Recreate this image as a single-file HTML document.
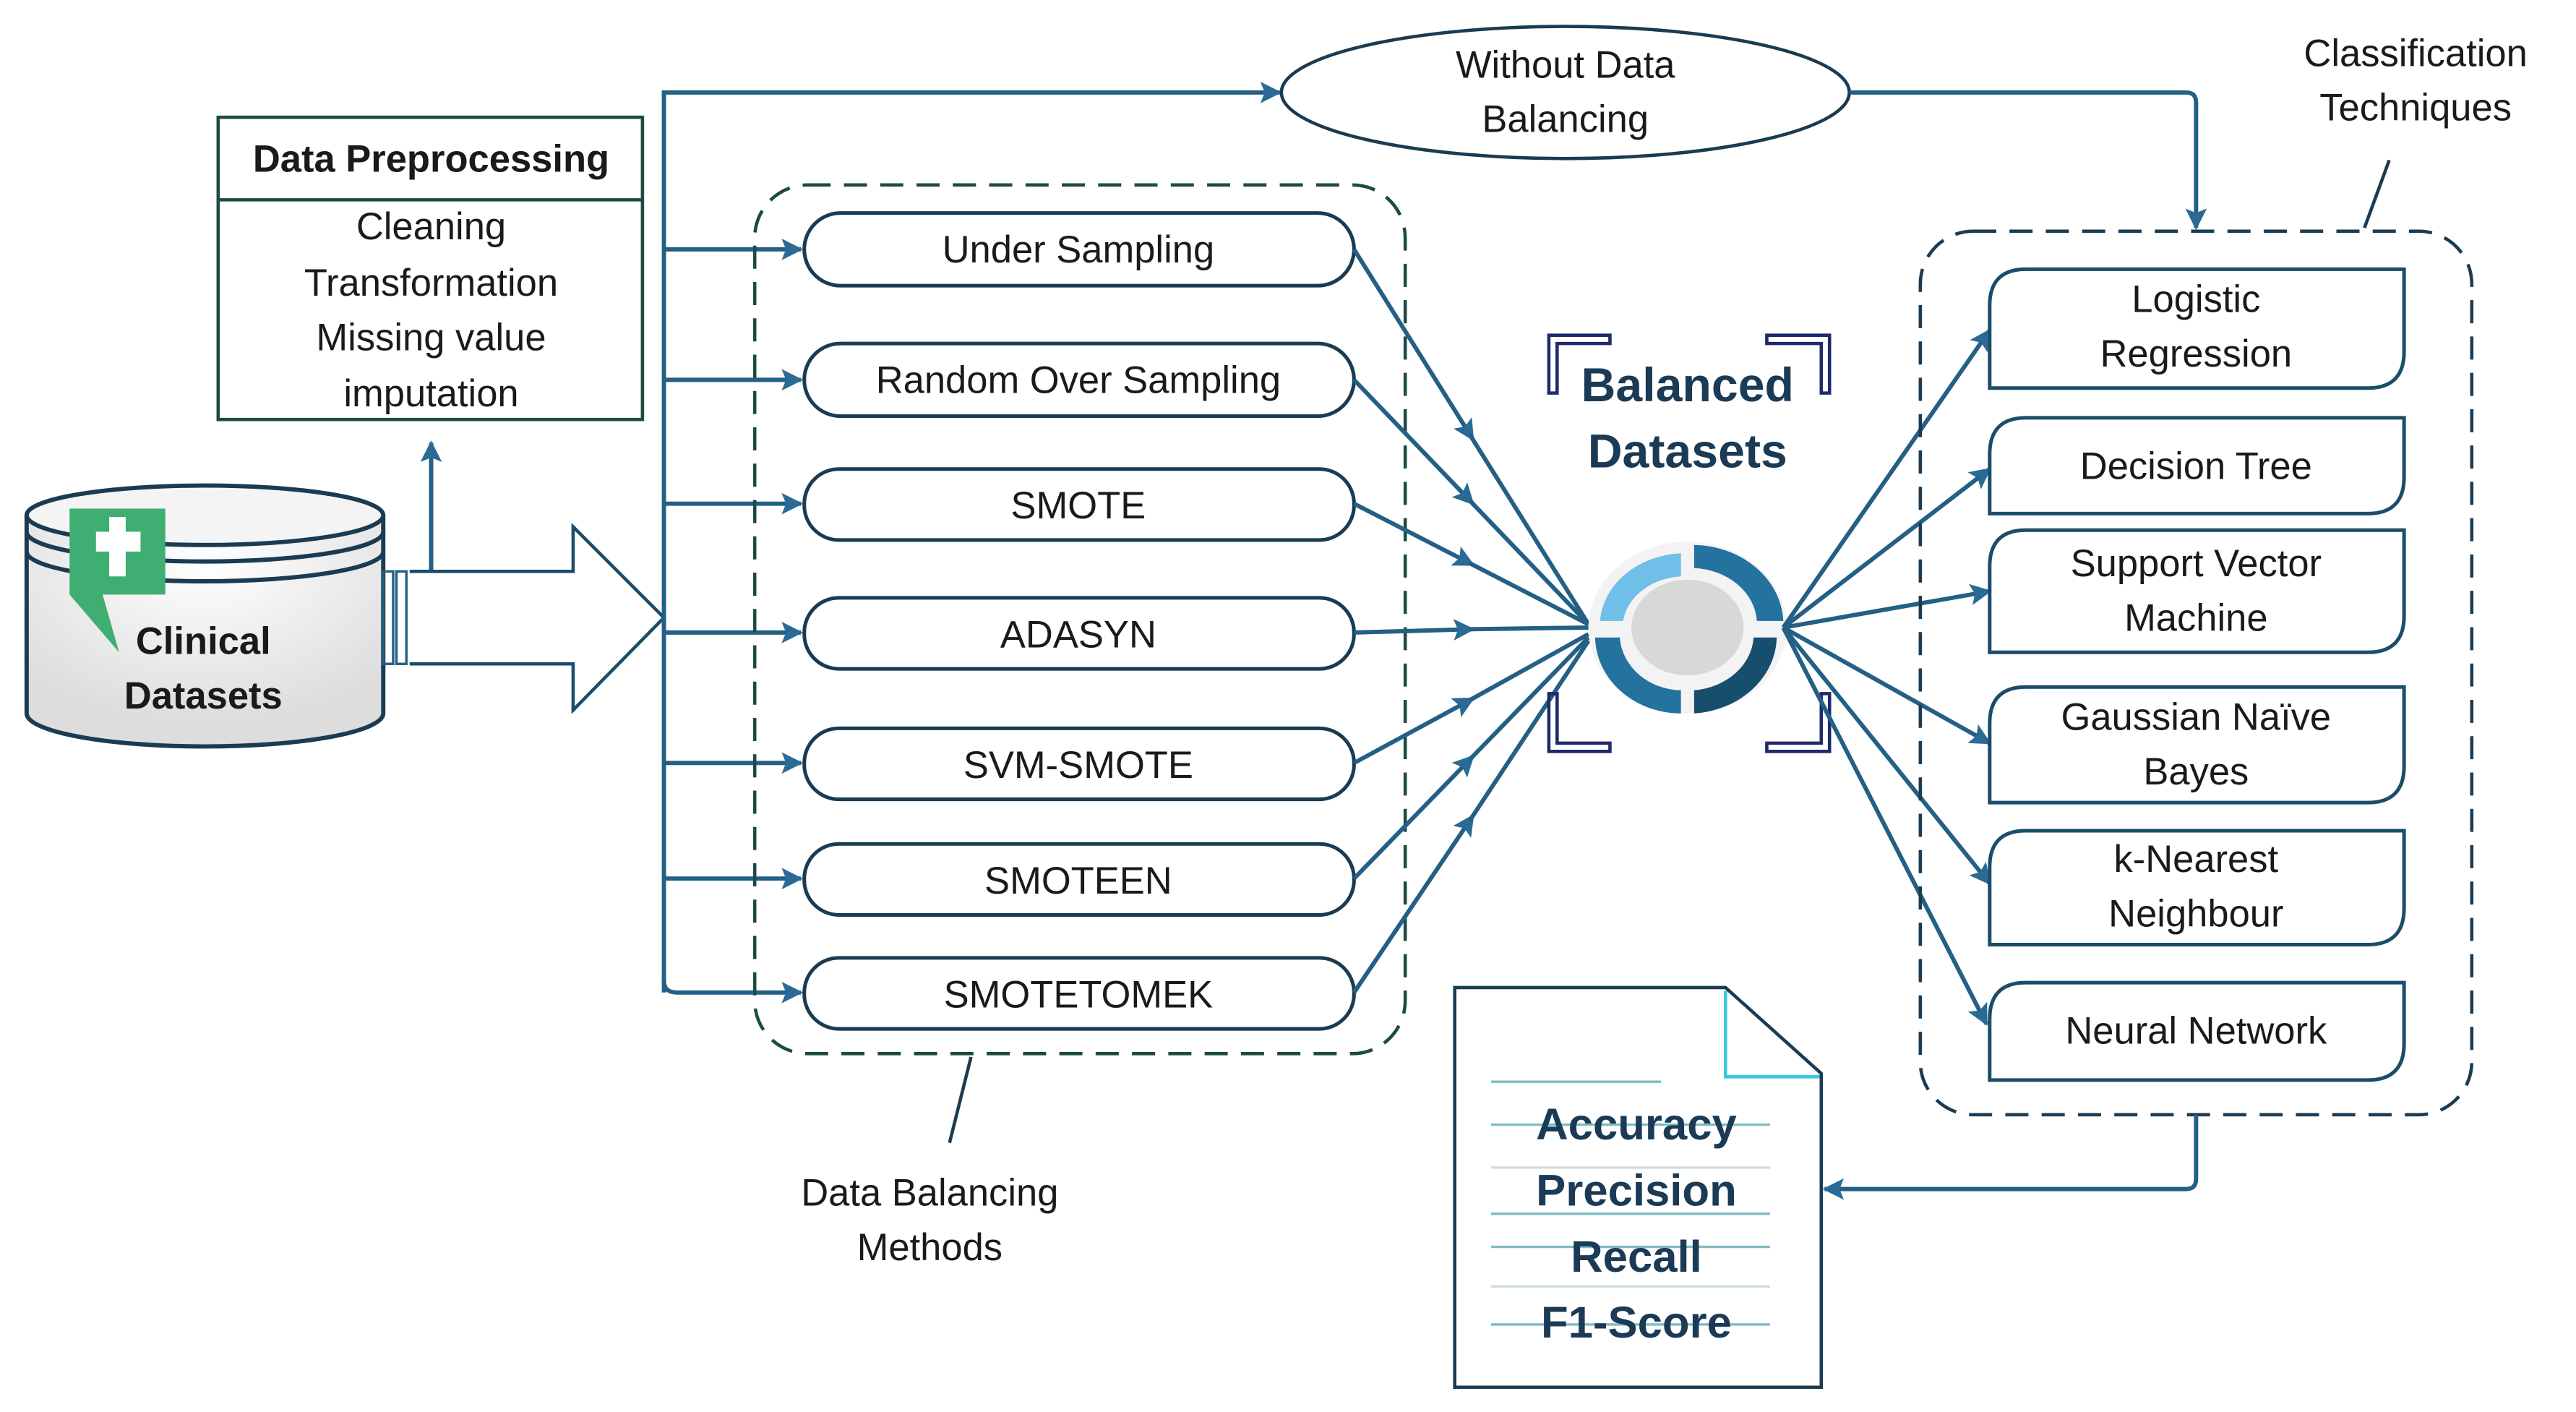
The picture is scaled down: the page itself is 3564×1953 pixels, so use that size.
<!DOCTYPE html>
<html><head><meta charset="utf-8"><style>
html,body{margin:0;padding:0;background:#fff;}
svg{display:block;}
text{font-family:"Liberation Sans","DejaVu Sans",sans-serif;}
</style></head><body>
<svg width="3564" height="1953" viewBox="0 0 1560 855" xmlns="http://www.w3.org/2000/svg">
<defs>
<marker id="a" viewBox="0 0 10 10" refX="9" refY="5" markerWidth="17" markerHeight="13" markerUnits="userSpaceOnUse" orient="auto">
<path d="M0,0 L10,5 L0,10 L2,5 z" fill="#2a6b95"/>
</marker>
<radialGradient id="cg" cx="50%" cy="20%" r="70%"><stop offset="0" stop-color="#fff"/><stop offset="1" stop-color="#ddd"/></radialGradient>
</defs>
<g fill="none" stroke="#245f85" stroke-width="2.6">
<rect x="132" y="71" width="257" height="183" stroke="#1d4a44" stroke-width="2"/>
<line x1="132" y1="121" x2="389" y2="121" stroke="#1d4a44" stroke-width="2"/>
<line x1="261" y1="345" x2="261" y2="268" marker-end="url(#a)"/>
<path d="M16,312 L16,432 A108,20 0 0 0 232,432 L232,312" fill="url(#cg)" stroke="#1b3b52"/>
<ellipse cx="124" cy="312" rx="108" ry="18" fill="#f4f4f4" stroke="#1b3b52"/>
<path d="M16,322 A108,18 0 0 0 232,322 M16,334 A108,18 0 0 0 232,334" stroke="#1b3b52"/>
<path d="M42,308 H100 V360 H62 L72,395 L42,360 Z" fill="#3fae72" stroke="none"/>
<path d="M58,322 H66 V313 H76 V322 H85 V334 H76 V349 H66 V334 H58 Z" fill="#fff" stroke="none"/>
<rect x="232" y="346" width="6" height="56" stroke-width="1.5"/>
<rect x="240" y="346" width="6" height="56" stroke-width="1.5"/>
<path d="M248,346 H347 V319 L402,374 L347,430 V402 H248" fill="#fff" stroke="#1b4d6b" stroke-width="2"/>
<path d="M402,601 V56 H775" marker-end="url(#a)"/>
<path d="M402,594 Q402,601 410,601 H485" marker-end="url(#a)"/>
<line x1="402" y1="151" x2="485" y2="151" marker-end="url(#a)"/>
<line x1="402" y1="230" x2="485" y2="230" marker-end="url(#a)"/>
<line x1="402" y1="305" x2="485" y2="305" marker-end="url(#a)"/>
<line x1="402" y1="383" x2="485" y2="383" marker-end="url(#a)"/>
<line x1="402" y1="462" x2="485" y2="462" marker-end="url(#a)"/>
<line x1="402" y1="532" x2="485" y2="532" marker-end="url(#a)"/>
<rect x="457" y="112" width="394" height="526" rx="32" stroke="#1d4a44" stroke-width="2" stroke-dasharray="14,8"/>
<line x1="588" y1="640" x2="575" y2="692" stroke="#1b3b52" stroke-width="2"/>
<g stroke="#1b3b52" stroke-width="2.2" fill="#fff">
<rect x="487" y="129" width="333" height="44" rx="22"/>
<rect x="487" y="208" width="333" height="44" rx="22"/>
<rect x="487" y="284" width="333" height="43" rx="21"/>
<rect x="487" y="362" width="333" height="43" rx="21"/>
<rect x="487" y="441" width="333" height="43" rx="21"/>
<rect x="487" y="511" width="333" height="43" rx="21"/>
<rect x="487" y="580" width="333" height="43" rx="21"/>
</g>
<g>
<line x1="820" y1="151" x2="892" y2="266" marker-end="url(#a)"/><line x1="890" y1="263" x2="962" y2="378"/>
<line x1="820" y1="230" x2="892" y2="305" marker-end="url(#a)"/><line x1="890" y1="303" x2="962" y2="378"/>
<line x1="820" y1="305" x2="892" y2="342" marker-end="url(#a)"/><line x1="890" y1="341" x2="962" y2="378"/>
<line x1="820" y1="383" x2="892" y2="381" marker-end="url(#a)"/><line x1="890" y1="381" x2="962" y2="380"/>
<line x1="820" y1="462" x2="892" y2="423" marker-end="url(#a)"/><line x1="890" y1="424" x2="962" y2="384"/>
<line x1="820" y1="532" x2="892" y2="458" marker-end="url(#a)"/><line x1="890" y1="460" x2="962" y2="386"/>
<line x1="820" y1="601" x2="892" y2="494" marker-end="url(#a)"/><line x1="890" y1="497" x2="962" y2="388"/>
</g>
<ellipse cx="948" cy="56" rx="172" ry="40" stroke="#1b3b52" stroke-width="2" fill="#fff"/>
<path d="M1120,56 H1324 Q1330,56 1330,62 V138" marker-end="url(#a)"/>
<g stroke="#1f2a6a" stroke-width="2">
<path d="M938,238 V203 H975 V208 H943 V238 Z"/>
<path d="M1108,238 V203 H1070 V208 H1103 V238 Z"/>
<path d="M938,420 V455 H975 V450 H943 V420 Z"/>
<path d="M1108,420 V455 H1070 V450 H1103 V420 Z"/>
</g>
<ellipse cx="1022" cy="380" rx="60" ry="52" fill="#f3f3f3" stroke="none"/>
<path d="M969,376 A52,44 0 0 1 1018,335 V349 A38,31 0 0 0 983,376 Z" fill="#6fbfe8" stroke="none"/>
<path d="M1026,330 A55,48 0 0 1 1080,376 H1064 A40,34 0 0 0 1026,344 Z" fill="#23729f" stroke="none"/>
<path d="M1076,386 A54,47 0 0 1 1026,432 V418 A40,34 0 0 0 1062,386 Z" fill="#174d6d" stroke="none"/>
<path d="M1018,432 A52,47 0 0 1 966,386 H981 A38,34 0 0 0 1018,418 Z" fill="#23729f" stroke="none"/>
<ellipse cx="1022" cy="380" rx="34" ry="29" fill="#d8d8d8" stroke="none"/>
<line x1="1080" y1="380" x2="1205" y2="200" marker-end="url(#a)"/>
<line x1="1080" y1="380" x2="1205" y2="284" marker-end="url(#a)"/>
<line x1="1080" y1="380" x2="1205" y2="358" marker-end="url(#a)"/>
<line x1="1080" y1="380" x2="1205" y2="450" marker-end="url(#a)"/>
<line x1="1080" y1="380" x2="1205" y2="535" marker-end="url(#a)"/>
<line x1="1080" y1="380" x2="1203" y2="620" marker-end="url(#a)"/>
<rect x="1163" y="140" width="334" height="535" rx="32" stroke="#1b3b52" stroke-width="2" stroke-dasharray="14,8"/>
<line x1="1447" y1="97" x2="1432" y2="138" stroke="#1b3b52" stroke-width="2"/>
<g stroke="#1b4d6b" stroke-width="2.2" fill="#fff">
<path d="M1205,235 V185 Q1205,163 1227,163 H1456 V213 Q1456,235 1434,235 Z"/>
<path d="M1205,311 V275 Q1205,253 1227,253 H1456 V289 Q1456,311 1434,311 Z"/>
<path d="M1205,395 V343 Q1205,321 1227,321 H1456 V373 Q1456,395 1434,395 Z"/>
<path d="M1205,486 V438 Q1205,416 1227,416 H1456 V464 Q1456,486 1434,486 Z"/>
<path d="M1205,572 V525 Q1205,503 1227,503 H1456 V550 Q1456,572 1434,572 Z"/>
<path d="M1205,654 V617 Q1205,595 1227,595 H1456 V632 Q1456,654 1434,654 Z"/>
</g>
<path d="M881,598 H1045 L1103,650 V840 H881 Z" stroke="#1b3b52" stroke-width="2" fill="#fff"/>
<path d="M1045,600 V652 H1102" stroke="#38c8e0" stroke-width="2"/>
<g stroke="#7fbcc0" stroke-width="1.5">
<line x1="903" y1="655" x2="1006" y2="655"/>
<line x1="903" y1="681" x2="1072" y2="681"/>
<line x1="903" y1="707" x2="1072" y2="707" stroke="#cfdedf"/>
<line x1="903" y1="735" x2="1072" y2="735"/>
<line x1="903" y1="755" x2="1072" y2="755"/>
<line x1="903" y1="779" x2="1072" y2="779" stroke="#cfdedf"/>
<line x1="903" y1="802" x2="1072" y2="802"/>
</g>
<path d="M1330,675 V714 Q1330,720 1324,720 H1105" marker-end="url(#a)"/>
</g>
<g font-size="23" fill="#1a1a1a" text-anchor="middle">
<text x="261" y="104" font-weight="bold" font-size="23">Data Preprocessing</text>
<text x="261" y="145">Cleaning</text>
<text x="261" y="179">Transformation</text>
<text x="261" y="212">Missing value</text>
<text x="261" y="246">imputation</text>
<text x="123" y="396" font-weight="bold">Clinical</text>
<text x="123" y="429" font-weight="bold">Datasets</text>
<text x="653" y="159">Under Sampling</text>
<text x="653" y="238">Random Over Sampling</text>
<text x="653" y="314">SMOTE</text>
<text x="653" y="392">ADASYN</text>
<text x="653" y="471">SVM-SMOTE</text>
<text x="653" y="541">SMOTEEN</text>
<text x="653" y="610">SMOTETOMEK</text>
<text x="563" y="730">Data Balancing</text>
<text x="563" y="763">Methods</text>
<text x="948" y="47">Without Data</text>
<text x="948" y="80">Balancing</text>
<text x="1463" y="40">Classification</text>
<text x="1463" y="73">Techniques</text>
<text x="1330" y="189">Logistic</text>
<text x="1330" y="222">Regression</text>
<text x="1330" y="290">Decision Tree</text>
<text x="1330" y="349">Support Vector</text>
<text x="1330" y="382">Machine</text>
<text x="1330" y="442">Gaussian Naïve</text>
<text x="1330" y="475">Bayes</text>
<text x="1330" y="528">k-Nearest</text>
<text x="1330" y="561">Neighbour</text>
<text x="1330" y="632">Neural Network</text>
</g>
<g font-weight="bold" fill="#1a3a55" text-anchor="middle">
<text x="1022" y="243" font-size="29">Balanced</text>
<text x="1022" y="283" font-size="29">Datasets</text>
<text x="991" y="690" font-size="27">Accuracy</text>
<text x="991" y="730" font-size="27">Precision</text>
<text x="991" y="770" font-size="27">Recall</text>
<text x="991" y="810" font-size="27">F1-Score</text>
</g>
</svg>
</body></html>
